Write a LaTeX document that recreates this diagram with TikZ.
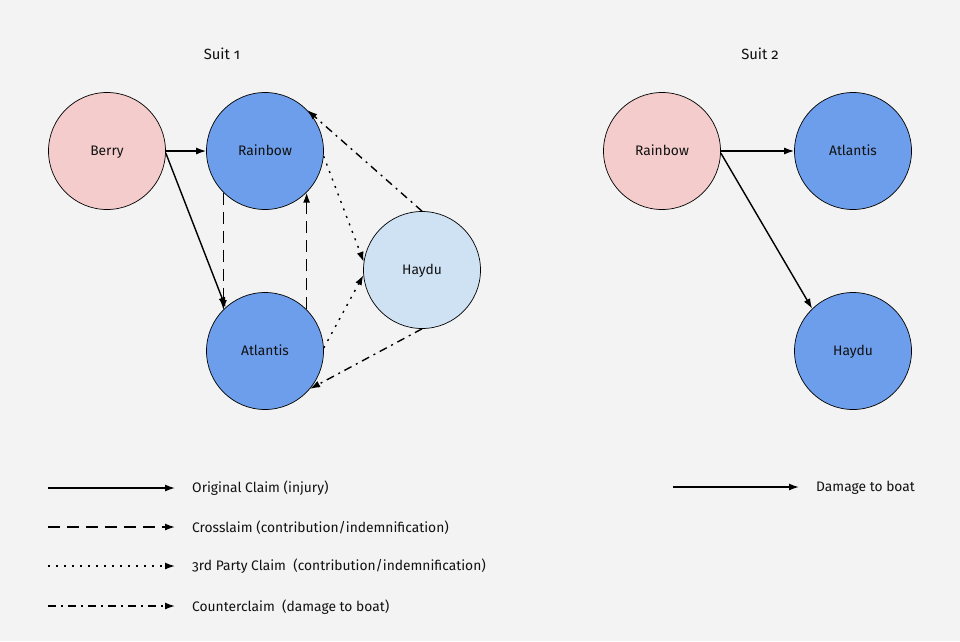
\documentclass[tikz,border=0pt]{standalone}
\usepackage{fontspec}
\setmainfont[Numbers=OldStyle]{Fira Sans}
\usetikzlibrary{arrows.meta,calc}
\definecolor{bg}{HTML}{F3F3F3}
\definecolor{pinkfill}{HTML}{F4CCCC}
\definecolor{bluefill}{HTML}{6D9EEB}
\definecolor{lightblue}{HTML}{CFE2F3}
\definecolor{txt}{HTML}{111111}
\begin{document}
\begin{tikzpicture}[x=1pt,y=-1pt,
  party/.style={circle,draw=black,line width=0.7pt,minimum size=117pt,inner sep=0pt,font=\fontsize{13.8}{16}\selectfont,text=txt,text height=2.2ex,text depth=0.4ex},
  pinkp/.style={party,fill=pinkfill},
  bluep/.style={party,fill=bluefill},
  lightp/.style={party,fill=lightblue},
  conn/.style={line width=1.4pt,-{Latex[length=10pt,width=7pt]}},
  solidc/.style={conn},
  dashc/.style={conn,dash pattern=on 12pt off 7pt},
  dotc/.style={conn,dash pattern=on 2pt off 6pt},
  dashdotc/.style={conn,dash pattern=on 8pt off 5pt on 2pt off 5pt},
  title/.style={font=\fontsize{14.8}{17}\selectfont,text=txt},
  legend/.style={anchor=west,font=\fontsize{13.8}{16}\selectfont,text=txt,inner sep=0pt}
]
\fill[bg] (0,0) rectangle (960,641);
\useasboundingbox (0,0) rectangle (960,641);

% titles
\node[title] (t1) at (222,54) {Suit 1};
\node[title] (t2) at (760,54) {Suit 2};

% Suit 1
\node[pinkp] (Berry) at (107,151) {Berry};
\node[bluep] (Rainbow) at (265,151) {Rainbow};
\node[bluep] (Atlantis) at (265,351) {Atlantis};
\node[lightp] (Haydu) at (422,270) {Haydu};

\draw[solidc] (Berry.east) -- (Rainbow.west);
\draw[solidc] (Berry.358) -- (Atlantis.132);
\draw[dashc] (Rainbow.225) -- (Rainbow.225 |- Atlantis.136);
\draw[dashc] (Atlantis.45) -- (Atlantis.45 |- Rainbow.315);
\draw[dotc] (Rainbow.355) -- (Haydu.172);
\draw[dotc] (Atlantis.3) -- (Haydu.185);
\draw[dashdotc] (Haydu.north) -- (Rainbow.44);
\draw[dashdotc] (Haydu.south) -- (Atlantis.320);

% Suit 2
\node[pinkp] (Rainbow2) at (662,151) {Rainbow};
\node[bluep] (Atlantis2) at (853,151) {Atlantis};
\node[bluep] (Haydu2) at (853,351) {Haydu};
\draw[solidc] (Rainbow2.east) -- (Atlantis2.west);
\draw[solidc] (Rainbow2.358) -- (Haydu2.134);

% Legend
\coordinate (l1a) at (48,488); \coordinate (l1b) at (175,488);
\coordinate (l2a) at (48,527); \coordinate (l2b) at (175,527);
\coordinate (l3a) at (48,566); \coordinate (l3b) at (175,566);
\coordinate (l4a) at (48,606); \coordinate (l4b) at (175,606);
\coordinate (l5a) at (673,487); \coordinate (l5b) at (799,487);
\draw[solidc] (l1a) -- (l1b);
\draw[dashc] (l2a) -- (l2b);
\draw[dotc] (l3a) -- (l3b);
\draw[dashdotc] (l4a) -- (l4b);
\draw[solidc] (l5a) -- (l5b);
\node[legend] (L1) at (192,488) {Original Claim (injury)};
\node[legend] (L2) at (192,528) {Crosslaim (contribution/indemnification)};
\node[legend] (L3) at (192,566) {3rd Party Claim\ \ (contribution/indemnification)};
\node[legend] (L4) at (192,607) {Counterclaim\ \ (damage to boat)};
\node[legend] (L5) at (816,488) {Damage to boat};
\end{tikzpicture}
\end{document}
